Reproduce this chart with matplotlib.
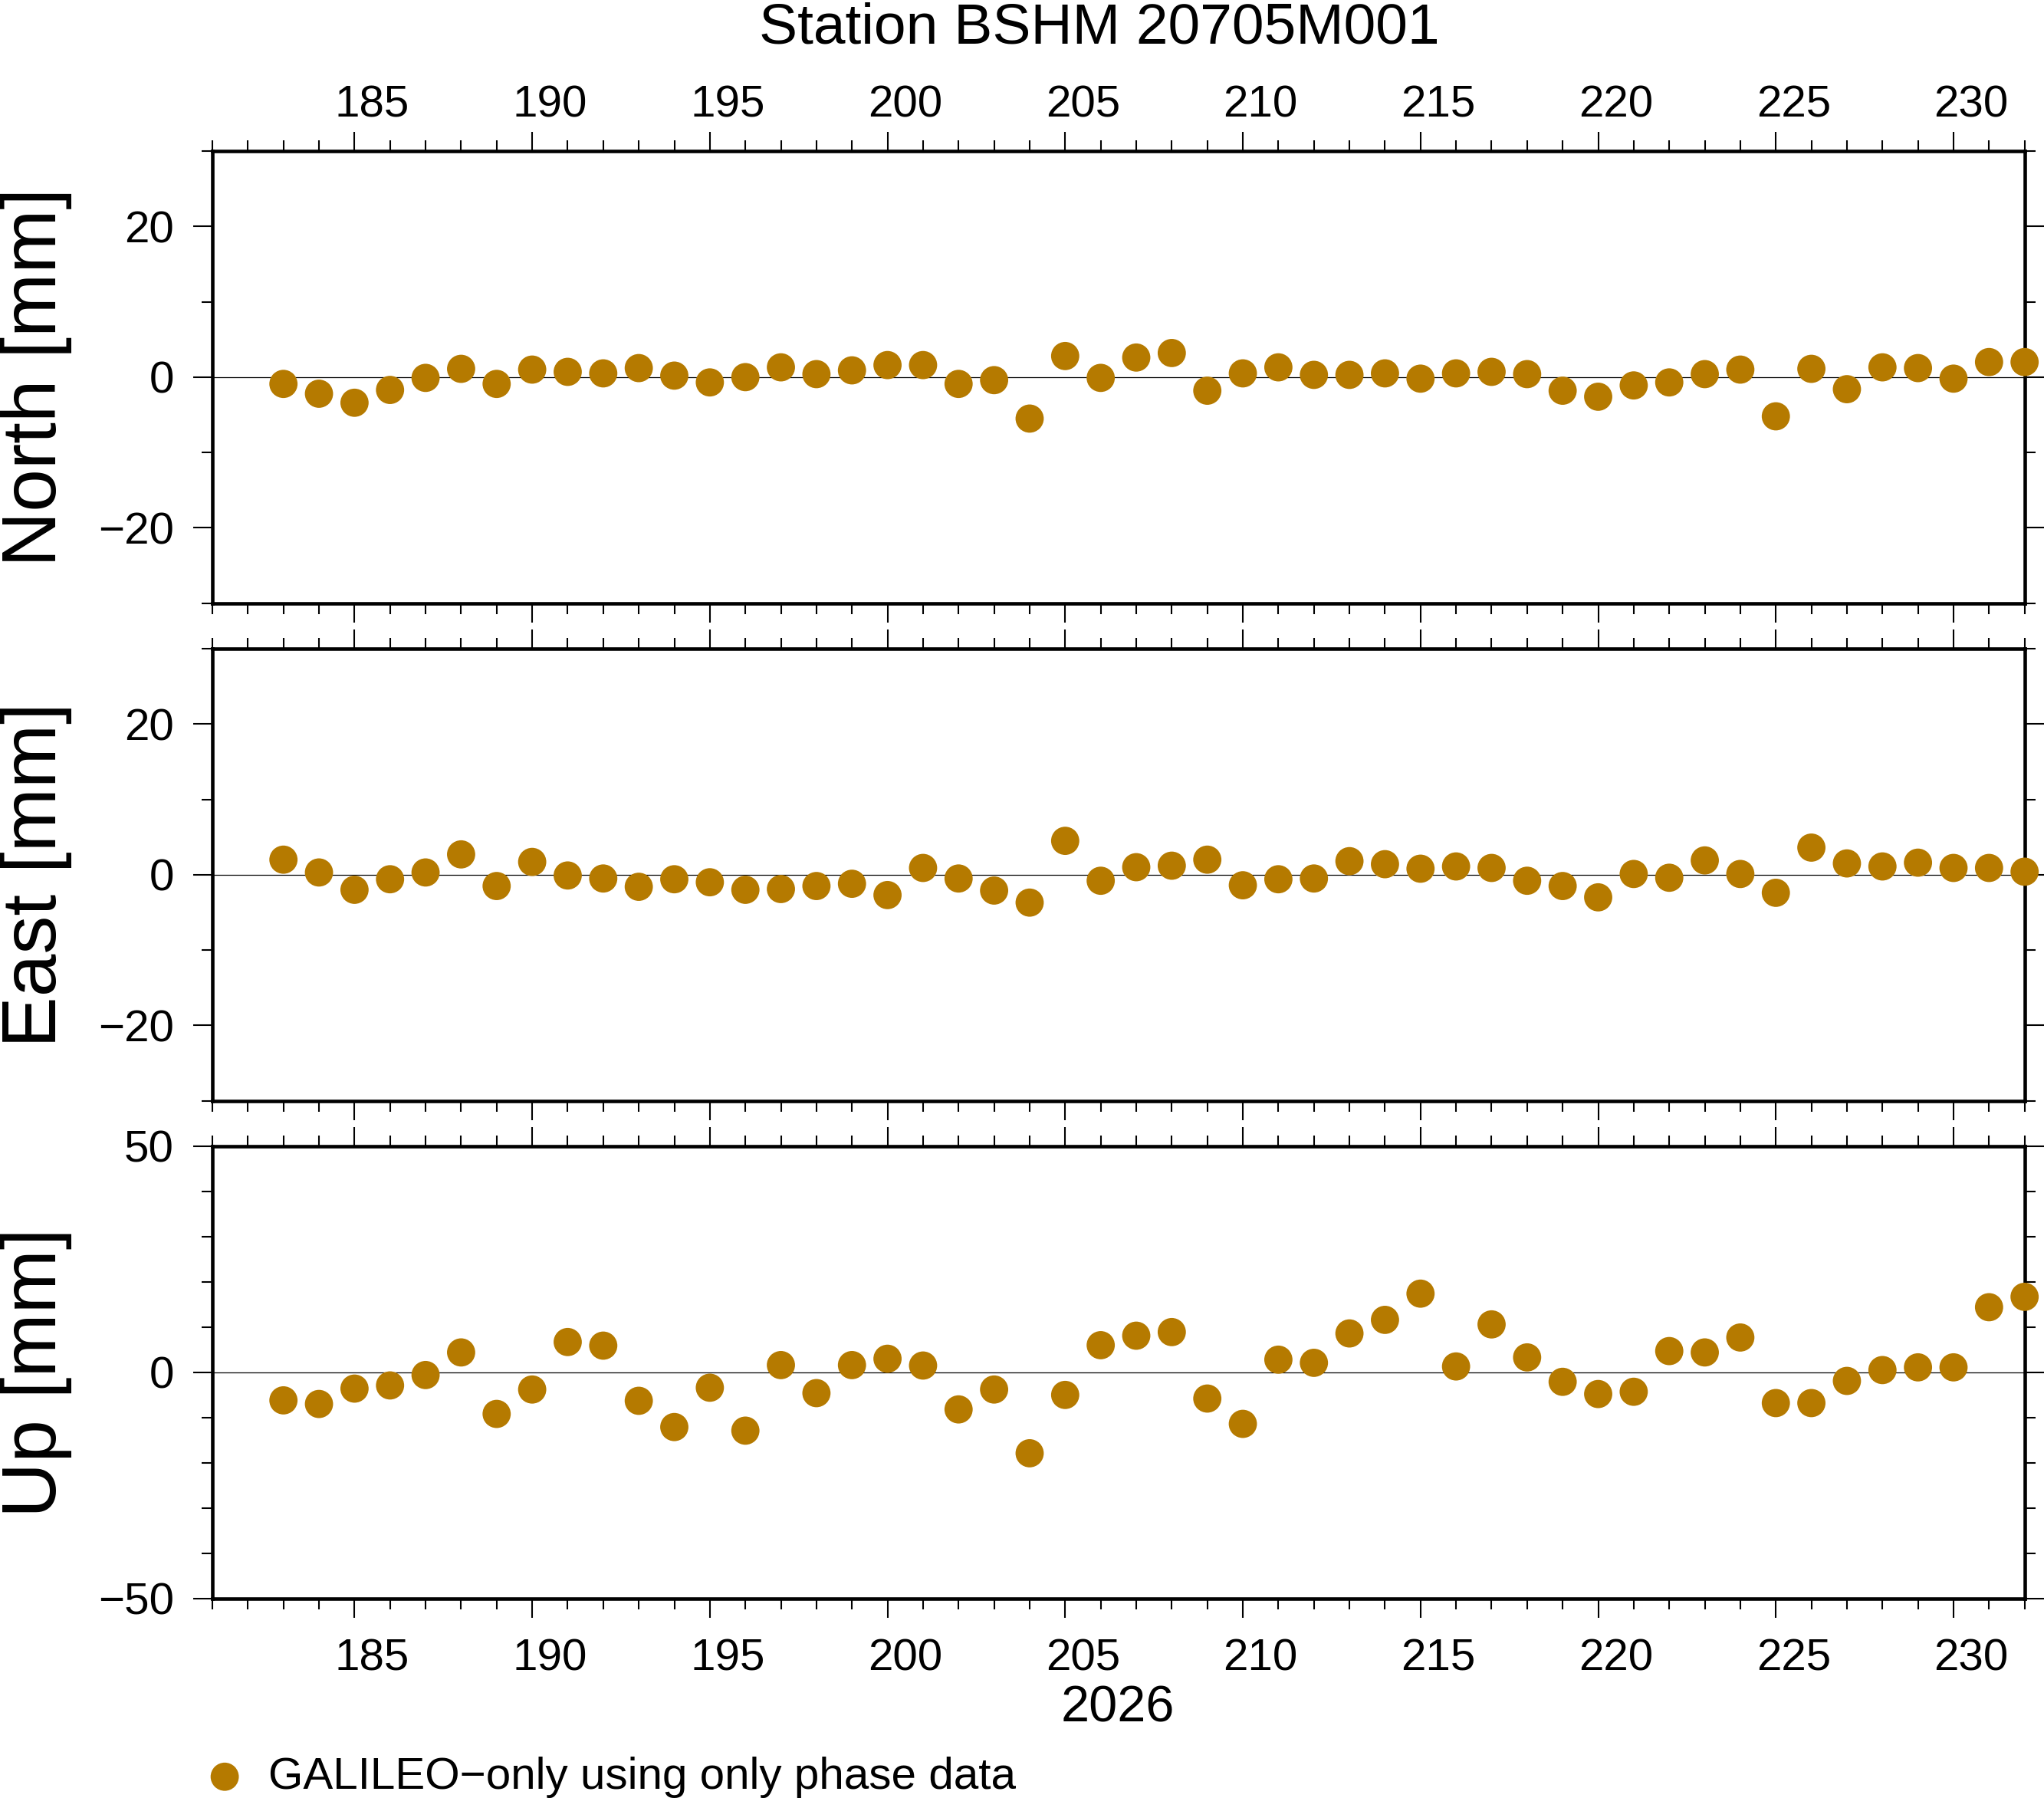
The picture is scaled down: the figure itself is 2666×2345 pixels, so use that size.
import matplotlib
matplotlib.use("Agg")
import matplotlib.pyplot as plt
from matplotlib.ticker import MultipleLocator, NullFormatter

plt.rcParams['font.family'] = ['Liberation Sans', 'DejaVu Sans']

# --- data (day of year 2026, residuals in mm) ---
days = [183, 184, 185, 186, 187, 188, 189, 190, 191, 192,
        193, 194, 195, 196, 197, 198, 199, 200, 201, 202,
        203, 204, 205, 206, 207, 208, 209, 210, 211, 212,
        213, 214, 215, 216, 217, 218, 219, 220, 221, 222,
        223, 224, 225, 226, 227, 228, 229, 230, 231, 232]

north = [-0.9, -2.2, -3.4, -1.7, -0.1, 1.1, -0.9, 1.0, 0.7, 0.5,
         1.2, 0.2, -0.7, 0.0, 1.3, 0.4, 0.9, 1.6, 1.6, -0.9,
         -0.4, -5.5, 2.8, -0.1, 2.6, 3.2, -1.8, 0.5, 1.3, 0.3,
         0.3, 0.5, -0.2, 0.5, 0.7, 0.4, -1.8, -2.6, -1.1, -0.7,
         0.4, 1.0, -5.2, 1.1, -1.6, 1.3, 1.2, -0.2, 2.0, 2.0]

east = [2.0, 0.3, -2.0, -0.6, 0.3, 2.7, -1.5, 1.7, -0.1, -0.5,
        -1.6, -0.6, -1.0, -2.0, -1.9, -1.5, -1.2, -2.7, 0.9, -0.5,
        -2.1, -3.7, 4.5, -0.8, 1.0, 1.2, 2.0, -1.4, -0.6, -0.5,
        1.8, 1.4, 0.8, 1.1, 0.9, -0.8, -1.5, -3.0, 0.1, -0.4,
        1.9, 0.1, -2.4, 3.6, 1.5, 1.1, 1.6, 0.9, 0.9, 0.4]

up = [-6.2, -7.0, -3.6, -2.9, -0.6, 4.4, -9.2, -3.8, 6.7, 5.9,
      -6.3, -12.1, -3.4, -12.9, 1.6, -4.6, 1.6, 3.0, 1.5, -8.2,
      -3.8, -17.9, -5.0, 6.0, 8.1, 8.9, -5.8, -11.4, 2.8, 2.1,
      8.6, 11.6, 17.4, 1.3, 10.6, 3.3, -2.1, -4.8, -4.3, 4.7,
      4.4, 7.7, -6.8, -6.8, -1.9, 0.5, 1.1, 1.1, 14.4, 16.7]

title = "Station BSHM 20705M001"
year_label = "2026"
legend_label = "GALILEO\u2212only using only phase data"
panel_labels = ["North [mm]", "East [mm]", "Up [mm]"]
panel_limits = [(-30, 30), (-30, 30), (-50, 50)]
panel_major = [20, 20, 50]
xlim = (181, 232)

color = '#b57a00'

fig = plt.figure(figsize=(2666 / 300, 2345 / 300), dpi=300)

# panel boxes (bottom, top) in figure fractions
left, right = 0.1039, 0.9905
boxes = [(0.6645, 0.9160), (0.3878, 0.6392), (0.1110, 0.3625)]

for i, (series, lab) in enumerate(zip([north, east, up], panel_labels)):
    b, t = boxes[i]
    ax = fig.add_axes([left, b, right - left, t - b])
    ax.axhline(0, color='black', lw=0.3, zorder=1)
    sc = ax.scatter(days, series, s=78, color=color, edgecolors='none',
                    clip_on=False, zorder=3, label=legend_label)
    ax.set_xlim(*xlim)
    ax.set_ylim(*panel_limits[i])
    ax.xaxis.set_major_locator(MultipleLocator(5))
    ax.xaxis.set_minor_locator(MultipleLocator(1))
    ax.xaxis.set_major_formatter(NullFormatter())
    ax.yaxis.set_major_locator(MultipleLocator(panel_major[i]))
    ax.yaxis.set_minor_locator(MultipleLocator(10))
    for sp in ax.spines.values():
        sp.set_linewidth(1.1)
    ax.tick_params(which='both', direction='out', top=True, right=True,
                   width=0.5, labelsize=14)
    ax.tick_params(which='major', length=6)
    ax.tick_params(which='minor', length=3.3)
    ax.tick_params(axis='y', pad=6)

    # day labels sit in the middle of the day interval (GMT style)
    if i in (0, 2):
        for d in ax.get_xticks():
            if xlim[0] <= d <= xlim[1] - 1:
                if i == 0:
                    ax.annotate(f"{d:.0f}", xy=(d + 0.5, 1),
                                xycoords=('data', 'axes fraction'),
                                xytext=(0, 7.9), textcoords='offset points',
                                ha='center', va='bottom', fontsize=14)
                else:
                    ax.annotate(f"{d:.0f}", xy=(d + 0.5, 0),
                                xycoords=('data', 'axes fraction'),
                                xytext=(0, -12.4), textcoords='offset points',
                                ha='center', va='top', fontsize=14)

    fig.text(0.0, (b + t) / 2, lab, rotation=90, ha='left', va='center',
             fontsize=24)

fig.text(0.538, 0.9757, title, ha='center', va='baseline', fontsize=18)
fig.text(0.547, 0.0426, year_label, ha='center', va='baseline', fontsize=16)

fig.legend(handles=[sc], loc='center left', bbox_to_anchor=(0.099, 0.0117),
           frameon=False, fontsize=14, handlelength=1.0, handletextpad=0.48,
           borderpad=0, borderaxespad=0, scatterpoints=1)

fig.savefig("out.png", dpi=300)
